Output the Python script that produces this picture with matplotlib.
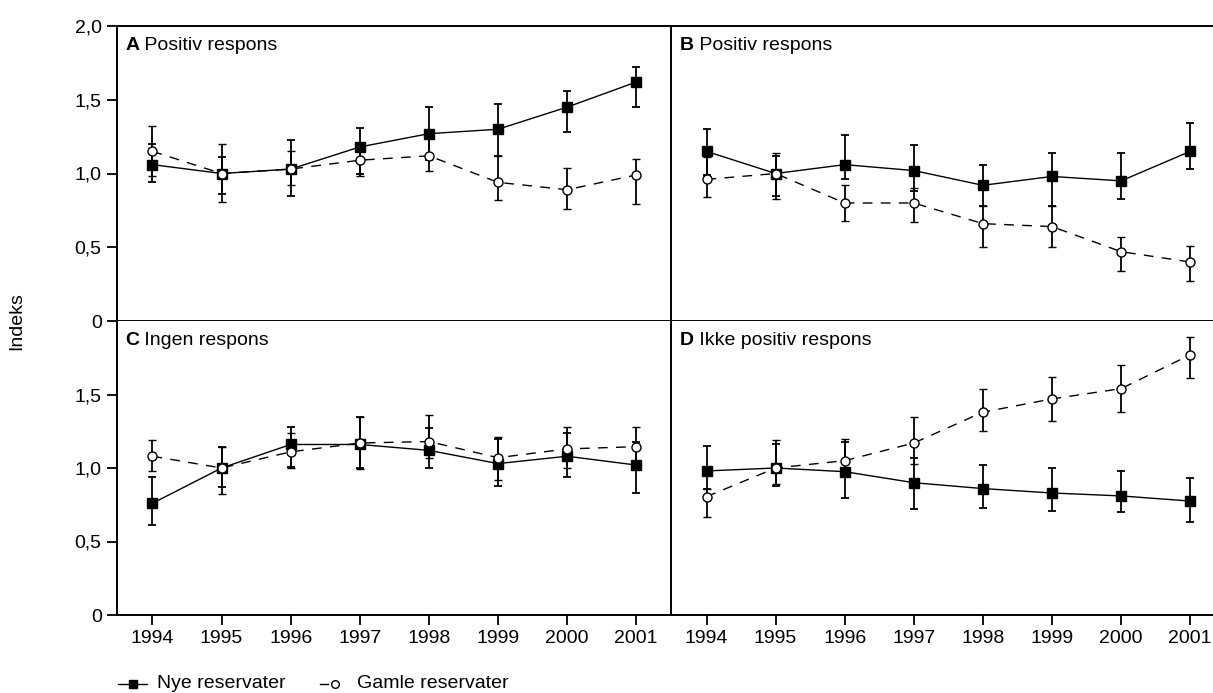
import matplotlib
matplotlib.use("Agg")
import matplotlib.pyplot as plt
from matplotlib.lines import Line2D
import numpy as np

plt.rcParams['font.family'] = ['Liberation Sans', 'DejaVu Sans']
plt.rcParams['font.size'] = 14

years = [1994, 1995, 1996, 1997, 1998, 1999, 2000, 2001]

# A Positiv respons (venstre)
a_nye = [1.06, 1.00, 1.03, 1.18, 1.27, 1.30, 1.45, 1.62]
a_nye_lo = [0.94, 0.86, 0.85, 1.00, 1.09, 1.12, 1.28, 1.45]
a_nye_hi = [1.20, 1.11, 1.23, 1.31, 1.45, 1.47, 1.56, 1.72]
a_gamle = [1.15, 1.00, 1.03, 1.09, 1.12, 0.94, 0.89, 0.99]
a_gamle_lo = [0.98, 0.81, 0.92, 0.98, 1.02, 0.82, 0.76, 0.79]
a_gamle_hi = [1.32, 1.20, 1.15, 1.17, 1.24, 1.12, 1.04, 1.10]

# B Positiv respons (hoyre)
b_nye = [1.15, 1.00, 1.06, 1.02, 0.92, 0.98, 0.95, 1.15]
b_nye_lo = [0.99, 0.85, 0.96, 0.88, 0.78, 0.78, 0.83, 1.03]
b_nye_hi = [1.30, 1.12, 1.26, 1.19, 1.06, 1.14, 1.14, 1.34]
b_gamle = [0.96, 1.00, 0.80, 0.80, 0.66, 0.64, 0.47, 0.40]
b_gamle_lo = [0.84, 0.83, 0.68, 0.67, 0.50, 0.50, 0.34, 0.27]
b_gamle_hi = [1.11, 1.14, 0.92, 0.90, 0.78, 0.78, 0.57, 0.51]

# C Ingen respons
c_nye = [0.76, 1.00, 1.16, 1.16, 1.12, 1.03, 1.08, 1.02]
c_nye_lo = [0.61, 0.87, 1.01, 1.00, 1.00, 0.88, 0.94, 0.83]
c_nye_hi = [0.94, 1.145, 1.28, 1.35, 1.27, 1.20, 1.24, 1.18]
c_gamle = [1.08, 1.00, 1.11, 1.17, 1.18, 1.07, 1.13, 1.145]
c_gamle_lo = [0.98, 0.82, 1.00, 0.99, 1.07, 0.92, 1.00, 1.02]
c_gamle_hi = [1.19, 1.145, 1.24, 1.35, 1.36, 1.21, 1.28, 1.28]

# D Ikke positiv respons
d_nye = [0.98, 1.00, 0.975, 0.90, 0.86, 0.83, 0.81, 0.775]
d_nye_lo = [0.86, 0.875, 0.795, 0.72, 0.73, 0.71, 0.70, 0.63]
d_nye_hi = [1.15, 1.16, 1.175, 1.07, 1.02, 1.00, 0.98, 0.93]
d_gamle = [0.805, 1.00, 1.05, 1.17, 1.38, 1.47, 1.54, 1.77]
d_gamle_lo = [0.67, 0.89, 0.95, 1.03, 1.25, 1.32, 1.38, 1.61]
d_gamle_hi = [0.86, 1.19, 1.20, 1.35, 1.54, 1.62, 1.70, 1.89]

panels = [
	("A", "Positiv respons", (a_nye, a_nye_lo, a_nye_hi), (a_gamle, a_gamle_lo, a_gamle_hi)),
	("B", "Positiv respons", (b_nye, b_nye_lo, b_nye_hi), (b_gamle, b_gamle_lo, b_gamle_hi)),
	("C", "Ingen respons", (c_nye, c_nye_lo, c_nye_hi), (c_gamle, c_gamle_lo, c_gamle_hi)),
	("D", "Ikke positiv respons", (d_nye, d_nye_lo, d_nye_hi), (d_gamle, d_gamle_lo, d_gamle_hi)),
]

W, H = 1213, 693
fig = plt.figure(figsize=(W / 100, H / 100), dpi=100)

# panel frames in pixels
x_left, x_mid, x_right = 117, 671, 1213
y_top, y_mid, y_bot = 26, 321, 615
px_per_year = 69.1
x0 = 1994 - 35.5 / px_per_year

def box(l, t, r, b):
	return [l / W, 1 - b / H, (r - l) / W, (b - t) / H]

frames = [
	box(x_left, y_top, x_mid, y_mid),
	box(x_mid, y_top, x_right, y_mid),
	box(x_left, y_mid, x_mid, y_bot),
	box(x_mid, y_mid, x_right, y_bot),
]

def drawSeries(ax, series, filled):
	vals, lo, hi = [np.array(s) for s in series]
	yerr = [vals - lo, hi - vals]
	if filled:
		ax.errorbar(years, vals, yerr=yerr, color='black', lw=1.0, marker='s', ms=6.5,
			mfc='black', mec='black', ecolor='black', elinewidth=1.3, capsize=3.2,
			capthick=1.3, zorder=3)
	else:
		ax.errorbar(years, vals, yerr=yerr, color='black', lw=1.0, ls=(0, (7, 6)),
			marker='o', ms=6.5, mfc='white', mec='black', mew=1.0, ecolor='black',
			elinewidth=1.3, capsize=3.2, capthick=1.3, zorder=4)

for i, (letter, title, nye, gamle) in enumerate(panels):
	ax = fig.add_axes(frames[i])
	drawSeries(ax, nye, True)
	drawSeries(ax, gamle, False)
	width_px = (x_mid - x_left) if i % 2 == 0 else (x_right - x_mid)
	ax.set_xlim(x0, x0 + width_px / px_per_year)
	ax.set_ylim(0, 2.0)
	for s in ax.spines.values():
		s.set_linewidth(1.4)
		s.set_color('black')
	ax.spines['right'].set_visible(False)
	if i >= 2:
		ax.spines['top'].set_visible(False)

	t = ax.text(0.015 if i % 2 == 0 else 0.017, 0.962, letter, transform=ax.transAxes,
		fontweight='bold', va='top', ha='left')
	ax.annotate(" " + title, xy=(1, 0), xycoords=t, va='bottom', ha='left')

	ax.tick_params(direction='out', length=7, width=1.3, color='black', labelsize=14, pad=4)
	if i % 2 == 0:
		if i == 0:
			ax.set_yticks([0, 0.5, 1.0, 1.5, 2.0])
			ax.set_yticklabels(["0", "0,5", "1,0", "1,5", "2,0"])
		else:
			ax.set_yticks([0, 0.5, 1.0, 1.5])
			ax.set_yticklabels(["0", "0,5", "1,0", "1,5"])
	else:
		ax.set_yticks([])
	if i >= 2:
		ax.set_xticks(years)
		ax.set_xticklabels([str(y) for y in years])
	else:
		ax.set_xticks([])

fig.text(17 / W, 1 - 321 / H, "Indeks", rotation=90, va='center', ha='center')

# legend keys drawn by hand: solid line with square, short dash with circle
ly = 1 - 684 / H
fig.add_artist(Line2D([118 / W, 147 / W], [ly, ly], color='black', lw=1.0))
fig.add_artist(Line2D([133 / W], [ly], color='black', marker='s', ms=5.5, ls='none'))
fig.text(157 / W, ly, "Nye reservater", va='center', ha='left')
fig.add_artist(Line2D([320 / W, 328 / W], [ly, ly], color='black', lw=1.0))
fig.add_artist(Line2D([335 / W], [ly], color='black', marker='o', ms=5.5, mfc='white',
	mew=1.0, ls='none'))
fig.text(357 / W, ly, "Gamle reservater", va='center', ha='left')

fig.savefig("out.png", dpi=100)
